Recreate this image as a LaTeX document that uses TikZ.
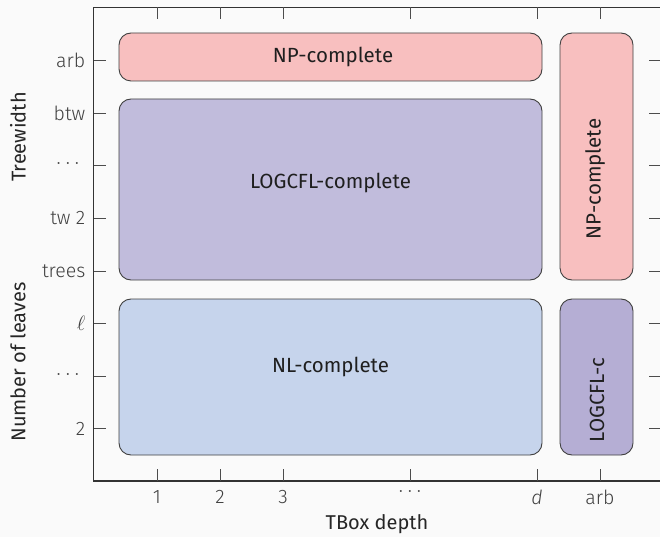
\documentclass[tikz,border=0pt]{standalone}
\usepackage{fontspec}
\setmainfont{Fira Sans}
\newfontfamily\ticklight{Fira Sans Light}
\begin{document}
\begin{tikzpicture}[x=1pt,y=-1pt,
  axisline/.style={draw=black!80, line width=1.2pt},
  tickline/.style={draw=black!70, line width=0.9pt},
  ticklab/.style={text=black!75, font=\ticklight\fontsize{19.5}{22}\selectfont, inner sep=0pt},
  axlab/.style={text=black!85, font=\fontsize{20}{22}\selectfont, inner sep=0pt},
  region/.style={draw=black!75, line width=0.9pt, rounded corners=12pt, inner sep=0pt},
  boxlab/.style={text=black!88, font=\fontsize{20.5}{22}\selectfont, inner sep=0pt}]
\definecolor{bgc}{HTML}{FAFAFA}
\definecolor{npc}{HTML}{F8BFBF}
\definecolor{logc}{HTML}{C1BCDC}
\definecolor{nlc}{HTML}{C6D4EC}
\definecolor{logcc}{HTML}{B5AED4}
\useasboundingbox (0,0) rectangle (660,537);
\fill[bgc] (0,0) rectangle (660,537);
% axis frame
\coordinate (tl) at (93.5,7.5);
\coordinate (bl) at (93.5,481);
\coordinate (tr) at (661,7.5);
\coordinate (br) at (661,481);
\draw[axisline] (tr) -- (tl) -- (bl) -- (br);
% x ticks
\foreach \xx in {157,220,283,410,537,600}{
  \draw[tickline] (\xx,481) -- (\xx,469);
  \draw[tickline] (\xx,7.5) -- (\xx,19.5);
}
\node[ticklab] (x1) at (157,497) {1};
\node[ticklab] (x2) at (220,497) {2};
\node[ticklab] (x3) at (283,497) {3};
\node[ticklab] (x5) at (410,491) {$\dots$};
\node[ticklab] (x7) at (537,497) {\itshape d};
\node[ticklab] (x8) at (600,497) {arb};
% y ticks
\foreach \yy in {60,113,165.5,218,271,323.5,376,428.5}{
  \draw[tickline] (93.5,\yy) -- (105.5,\yy);
  \draw[tickline] (661,\yy) -- (649,\yy);
}
\node[ticklab, anchor=east] (y8) at (85.5,60) {arb};
\node[ticklab, anchor=east] (y7) at (85.5,113) {btw};
\node[ticklab, anchor=east] (y6) at (80,163) {$\dots$};
\node[ticklab, anchor=east] (y5) at (85.5,218) {tw 2};
\node[ticklab, anchor=east] (y4) at (85.5,271) {trees};
\node[ticklab, anchor=east] (y3) at (85.5,323.5) {$\ell$};
\node[ticklab, anchor=east] (y2) at (80,374) {$\dots$};
\node[ticklab, anchor=east] (y1) at (85.5,428.5) {2};
% axis labels
\node[axlab, rotate=90] (ylab1) at (18,137) {Treewidth};
\node[axlab, rotate=90] (ylab2) at (18,362) {Number of leaves};
\node[axlab] (xlab) at (377,524) {TBox depth};
% regions
\node[region, fill=npc, minimum width=423pt, minimum height=48pt] (nptop) at (330.5,57) {};
\node[region, fill=logc, minimum width=423pt, minimum height=181pt] (logcfl) at (330.5,189.5) {};
\node[region, fill=nlc, minimum width=423pt, minimum height=156pt] (nl) at (330.5,377) {};
\node[region, fill=npc, minimum width=73pt, minimum height=247pt] (npright) at (596.5,156.5) {};
\node[region, fill=logcc, minimum width=73pt, minimum height=156pt] (logc) at (596.5,377) {};
% region labels
\node[boxlab] (l1) at (333,57) {NP-complete};
\node[boxlab] (l2) at (330.5,183) {LOGCFL-complete};
\node[boxlab] (l3) at (330.5,367) {NL-complete};
\node[boxlab, rotate=90] (l4) at (595,179) {NP-complete};
\node[boxlab, rotate=90] (l5) at (597,400) {LOGCFL-c};
\end{tikzpicture}
\end{document}
